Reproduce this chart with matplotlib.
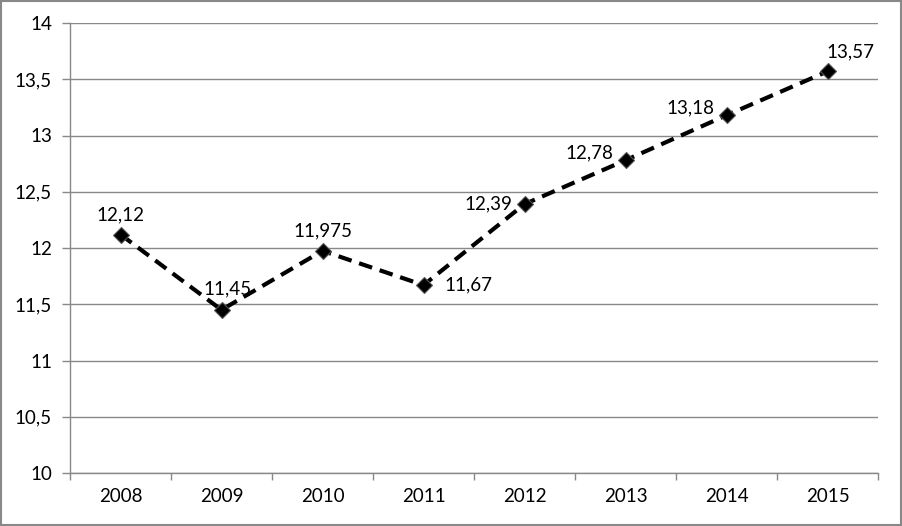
import matplotlib
matplotlib.use("Agg")
import matplotlib.pyplot as plt
from matplotlib.patches import Rectangle

years = ["2008", "2009", "2010", "2011", "2012", "2013", "2014", "2015"]
values = [12.12, 11.45, 11.975, 11.67, 12.39, 12.78, 13.18, 13.57]
labels = ["12,12", "11,45", "11,975", "11,67", "12,39", "12,78", "13,18", "13,57"]
yticks = [10, 10.5, 11, 11.5, 12, 12.5, 13, 13.5, 14]
ytick_labels = ["10", "10,5", "11", "11,5", "12", "12,5", "13", "13,5", "14"]

# label placement (offset in points, ha, va)
placements = [
    ((0, 8), "center", "bottom"),
    ((4, 9), "center", "bottom"),
    ((0, 8), "center", "bottom"),
    ((15, 0), "left", "center"),
    ((-9, 0), "right", "center"),
    ((-9, 5), "right", "center"),
    ((-9, 5), "right", "center"),
    ((-1, 8), "left", "bottom"),
]

FS = 13.5
plt.rcParams["font.family"] = ["Lato", "DejaVu Sans"]
fig = plt.figure(figsize=(9.02, 5.26), dpi=100)
ax = fig.add_axes([70 / 902, 1 - 473 / 526, 808 / 902, 450 / 526])

x = list(range(len(years)))
ax.plot(x, values, color="black", linewidth=3, linestyle=(0, (3.3, 1.9)),
        marker="D", markersize=8, markerfacecolor="black",
        markeredgecolor="#555555", markeredgewidth=0.8, zorder=3)

for xi, v, lab, (off, ha, va) in zip(x, values, labels, placements):
    ax.annotate(lab, (xi, v), xytext=off, textcoords="offset points",
                ha=ha, va=va, fontsize=FS, color="black")

ax.set_xlim(-0.5, len(years) - 0.5)
ax.set_ylim(10, 14)
ax.set_yticks(yticks)
ax.set_yticklabels(ytick_labels)
ax.set_xticks(x)
ax.set_xticklabels(years)
ax.set_xticks([i - 0.5 for i in range(len(years) + 1)], minor=True)
ax.tick_params(axis="x", which="major", length=0, pad=11, labelsize=FS)
ax.tick_params(axis="x", which="minor", length=5, color="#888888", width=1)
ax.tick_params(axis="y", length=6, color="#888888", width=1, labelsize=FS, pad=7)
ax.grid(axis="y", color="#888888", linewidth=1)
ax.set_axisbelow(True)
for s in ["top", "right"]:
    ax.spines[s].set_visible(False)
for s in ["left", "bottom"]:
    ax.spines[s].set_color("#888888")
    ax.spines[s].set_linewidth(1)

fig.patches.append(Rectangle((0.001, 0.001), 0.998, 0.997, transform=fig.transFigure,
                             fill=False, edgecolor="#888888", linewidth=1.5))

fig.savefig("out.png", dpi=100)
